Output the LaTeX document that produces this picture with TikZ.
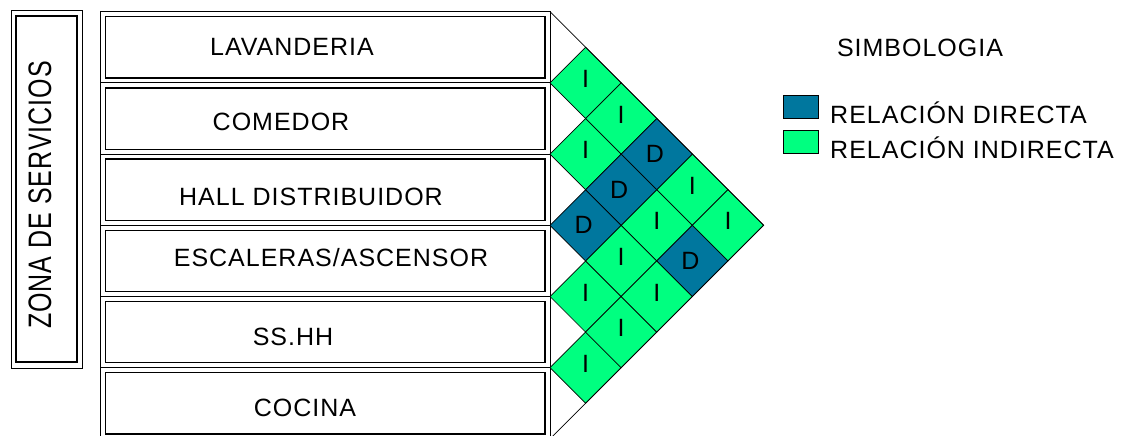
\documentclass[tikz,border=0pt]{standalone}
\usepackage{fontspec}
\setmainfont{Liberation Sans}[LetterSpace=4]
\definecolor{directa}{RGB}{0,119,158}
\definecolor{indirecta}{RGB}{0,255,128}
\tikzset{
  marco/.style={draw,line width=0.8pt},
  interior/.style={draw,line width=1.3pt},
  texto/.style={font=\fontsize{25}{30}\selectfont,inner sep=0pt,anchor=base},
  celda/.style={draw,line width=0.7pt},
  celdaI/.style={celda,fill=indirecta},
  celdaD/.style={celda,fill=directa},
  letra/.style={font=\fontsize{25}{30}\selectfont,inner sep=0pt},
  letraI/.style={letra,yshift=4pt},
  letraD/.style={letra,xshift=-2pt}
}
\begin{document}
\begin{tikzpicture}[x=1pt,y=-1pt]
\useasboundingbox (0,0) rectangle (1130,436);

% zona de servicios
\draw[marco] (11,10) rectangle (82,368);
\draw[interior] (16,16) rectangle (77,362);
\node[texto,anchor=center,rotate=90] (zona) at (40,195) {\scalebox{1}[1.3]{ZONA DE SERVICIOS}};

% ambientes
\foreach \k in {0,...,5}{
  \draw[marco] (100,{11.7+71.2*\k}) rectangle (550,{82.9+71.2*\k});
  \draw[interior] (105.5,{16.7+71.2*\k}) rectangle (545,{78+71.2*\k});
}
\node[texto] (lav) at (292,56) {LAVANDERIA};
\node[texto] (com) at (281,130) {COMEDOR};
\node[texto] (hall) at (311,205) {HALL DISTRIBUIDOR};
\node[texto] (esc) at (331,266.7) {ESCALERAS/ASCENSOR};
\node[texto] (ss) at (293,345) {SS.HH};
\node[texto] (coc) at (305,416.7) {COCINA};

% matriz de relaciones
\foreach \i/\j/\r in {1/2/I,2/3/I,3/4/D,4/5/I,5/6/I,
                      1/3/I,2/4/D,3/5/I,4/6/I,
                      1/4/D,2/5/I,3/6/I,
                      1/5/I,2/6/D,
                      1/6/I}{
  \filldraw[celda\r] ({550+(\j-\i-1)*35.6},{11.7+(\i+\j-1)*35.6})
    -- ++(35.6,-35.6) -- ++(35.6,35.6) -- ++(-35.6,35.6) -- cycle;
  \node[letra\r] (c\i\j) at ({550+(\j-\i)*35.6},{11.7+(\i+\j-1)*35.6}) {\r};
}
\draw[celda] (550,11.7) -- (763.6,225.3) -- (550,438.9);

% simbologia
\node[texto] (simb) at (920,57) {SIMBOLOGIA};
\filldraw[celda,fill=directa] (783,95) rectangle (818,118);
\filldraw[celda,fill=indirecta] (783,130) rectangle (818,153);
\node[texto,anchor=base west] (dir) at (830,123.3) {RELACIÓN DIRECTA};
\node[texto,anchor=base west] (ind) at (830,158.3) {RELACIÓN INDIRECTA};
\end{tikzpicture}
\end{document}
